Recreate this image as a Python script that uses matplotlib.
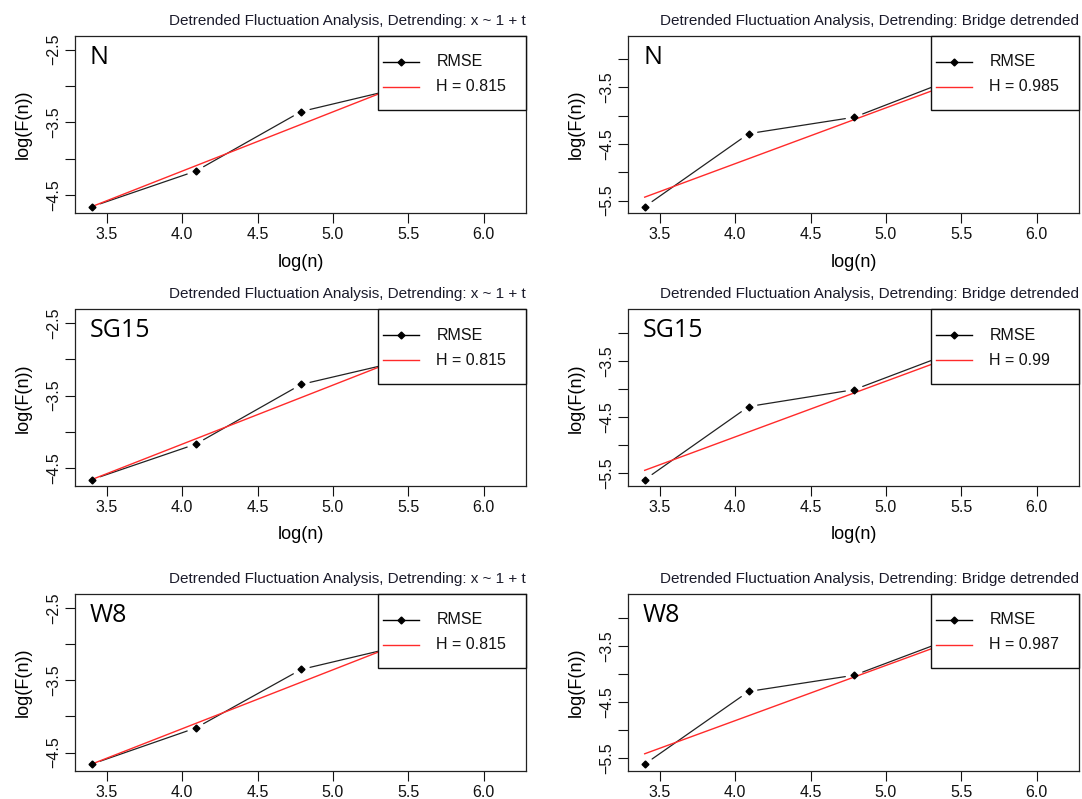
import numpy as np
import matplotlib.pyplot as plt
from matplotlib.patches import Rectangle

# log(n) for the window sizes
log_n = [3.40, 4.09, 4.79, 5.48, 6.17]
x_ticks = [3.5, 4.0, 4.5, 5.0, 5.5, 6.0]

names = ['N', 'SG15', 'W8']

# left column, detrending x ~ 1 + t
rmse_lin_N = [-4.66, -4.17, -3.35, -3.01, -2.47]
rmse_lin_SG15 = [-4.66, -4.17, -3.345, -3.01, -2.47]
rmse_lin_W8 = [-4.66, -4.16, -3.35, -3.01, -2.47]
H_lin = [0.815, 0.815, 0.815]
b_lin = [-7.43, -7.43, -7.43]
yticks_lin = [-2.5, -3.0, -3.5, -4.0, -4.5]
ylabels_lin = ['\u22122.5', '', '\u22123.5', '', '\u22124.5']

# right column, bridge detrended
rmse_br_N = [-5.61, -4.32, -4.03, -3.32, -3.10]
rmse_br_SG15 = [-5.61, -4.31, -4.01, -3.31, -3.09]
rmse_br_W8 = [-5.61, -4.31, -4.02, -3.32, -3.10]
H_br = [0.985, 0.99, 0.987]
b_br = [-8.79, -8.81, -8.78]
yticks_br = [-3.0, -3.5, -4.0, -4.5, -5.0, -5.5]
ylabels_br = ['', '\u22123.5', '', '\u22124.5', '', '\u22125.5']

title_lin = 'Detrended Fluctuation Analysis, Detrending: x ~ 1 + t'
title_br = 'Detrended Fluctuation Analysis, Detrending: Bridge detrended'

W, Hpx = 1082, 799
cols = [(75, 526), (628, 1079)]
rows = [(36, 213.3), (309.5, 486.2), (594.3, 770.7)]
AX_W, AX_H = 451.0, 177.0

plt.rcParams['font.family'] = ['Liberation Sans', 'DejaVu Sans']


def r_legend(ax, labels, colors, with_marker):
    # R style legend box in the top right corner
    w, h = 148 / AX_W, 74.3 / AX_H
    x0, y0 = 1 - w, 1 - h
    ax.add_patch(Rectangle((x0, y0), w, h, transform=ax.transAxes,
                           facecolor='white', edgecolor='#111111', lw=1.0,
                           zorder=5, clip_on=False))
    for i, (lab, c, m) in enumerate(zip(labels, colors, with_marker)):
        yc = 1 - (25.6 + 25 * i) / AX_H
        xa, xb = x0 + 5 / AX_W, x0 + 41 / AX_W
        ax.plot([xa, xb], [yc, yc], transform=ax.transAxes, color=c,
                lw=1.0, zorder=6, clip_on=False)
        if m:
            ax.plot([(xa + xb) / 2], [yc], 'D', transform=ax.transAxes,
                    color='black', ms=3.5, zorder=7, clip_on=False)
        ax.text(x0 + 58.3 / AX_W, yc, lab, transform=ax.transAxes,
                va='center', ha='left', fontsize=11.5, color='#111111',
                zorder=7)


def dfa_panel(ax, y, H, b, title, name, xlabel, yticks, ylabels):
    x = np.array(log_n)
    y = np.array(y)
    ax.plot(x, y, 'D', color='black', ms=3.5, zorder=3)
    ax.margins(0.04)
    ax.autoscale_view()
    # type = "b": segments with gaps around points
    for i in range(len(x) - 1):
        ax.annotate('', xy=(x[i + 1], y[i + 1]), xytext=(x[i], y[i]),
                    arrowprops=dict(arrowstyle='-', color='#222222', lw=0.9,
                                    shrinkA=6.5, shrinkB=6.5), zorder=2)
    ax.plot(x, b + H * x, color='#ff2a2a', lw=1.0, zorder=2,
            scalex=False, scaley=False)

    ax.set_xticks(x_ticks)
    ax.set_yticks(yticks)
    ax.set_yticklabels(ylabels)
    ax.tick_params(direction='out', length=7, width=0.8, labelsize=11.5,
                   colors='#111111')
    ax.tick_params(axis='x', pad=3)
    ax.tick_params(axis='y', pad=3, labelrotation=90)
    for lab in ax.get_yticklabels():
        lab.set_va('center')
    for s in ax.spines.values():
        s.set_linewidth(0.9)
        s.set_color('#222222')

    ax.set_title(title, loc='right', fontsize=11, pad=8, color='#1a1a2a')
    if xlabel:
        ax.set_xlabel('log(n)', fontsize=13, va='center')
        ax.xaxis.set_label_coords(0.5, -48.7 / AX_H)
    ax.set_ylabel('log(F(n))', fontsize=13, va='center')
    ax.yaxis.set_label_coords(-52 / AX_W, 0.5)

    ax.text(15 / AX_W, 1 - 9 / AX_H, name, transform=ax.transAxes,
            va='top', ha='left', fontsize=18, family='Open Sans', zorder=7)

    r_legend(ax, ['RMSE', 'H = %s' % H], ['black', '#ff2a2a'], [True, False])


def main():
    fig = plt.figure(figsize=(W / 100, Hpx / 100), dpi=100)

    lin = [rmse_lin_N, rmse_lin_SG15, rmse_lin_W8]
    br = [rmse_br_N, rmse_br_SG15, rmse_br_W8]

    for r, (top, bot) in enumerate(rows):
        for c, (left, right) in enumerate(cols):
            ax = fig.add_axes([left / W, 1 - bot / Hpx,
                               (right - left) / W, (bot - top) / Hpx])
            if c == 0:
                dfa_panel(ax, lin[r], H_lin[r], b_lin[r], title_lin, names[r],
                          r < 2, yticks_lin, ylabels_lin)
            else:
                dfa_panel(ax, br[r], H_br[r], b_br[r], title_br, names[r],
                          r < 2, yticks_br, ylabels_br)

    fig.savefig('out.png', dpi=100, facecolor='white')


if __name__ == "__main__":
    main()
